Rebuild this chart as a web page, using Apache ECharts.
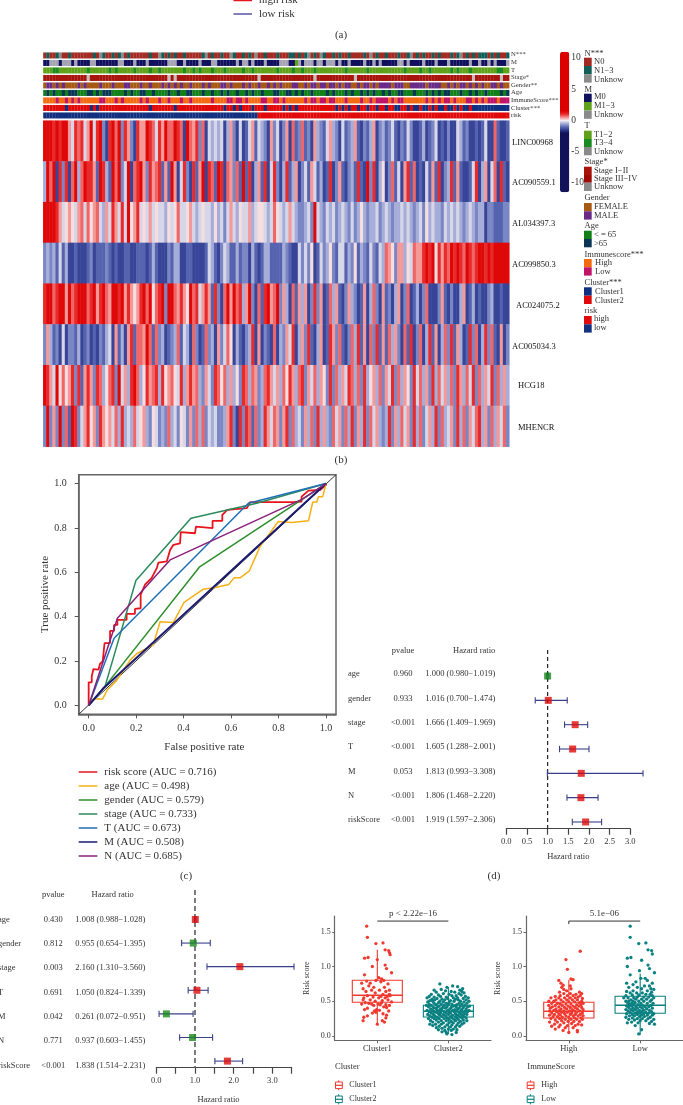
<!DOCTYPE html>
<html><head><meta charset="utf-8">
<style>html,body{margin:0;padding:0;background:#fff;overflow:hidden}#c{width:683px;height:1105px;filter:blur(.4px)}</style>
<script src="https://cdn.jsdelivr.net/npm/echarts@6/dist/echarts.min.js"></script>
</head><body><div id="c"></div>
<script>
// ---------- heatmap data (each digit = one patient, 0 = strongly low ... 9 = strongly high)
const geneNames=["LINC00968","AC090559.1","AL034397.3","AC099850.3","AC024075.2","AC005034.3","HCG18","MHENCR"];
const levelValues=[-1.45,-1.1,-.8,-.5,-.2,.1,.45,.7,1,1.4];
const geneLevels=[
"9998989964 8784694892 0897928620 8669874869 7798709768 2704343403 6204014614 3206240260 7127120632 1463204123 6102136023 1241021420 0130124010 2004312001 0140071001",
"3979082807 9379886198 3197924907 8962867816 1960482081 6908719807 6271918036 1804820381 3602416413 0180261023 1810928035 0271406817 0104161802 3816100148 0360470810",
"9999864565 4674756743 6486484956 8454645443 5457445643 4544353424 6435446345 5434754346 4322342943 2434234324 2353233423 4323343432 3425343324 3434323432 3302211122",
"2323141300 1000120111 2101001100 1110131000 2133001100 0014310243 1131220310 1331111321 0042425014 2352144132 5132142143 7652663547 6689895868 7989879878 9989899999",
"8997899697 8999789689 7699896865 6897957892 9976865978 4686182079 6978369207 1896792630 7163602826 0173610263 2016037206 1203602701 3027000261 0200360130 1002300100",
"2631204022 1301201021 3406130681 7769717230 1237143072 0172306247 5031023806 0210703264 8036281036 0186271027 3816072816 1736207180 2703816037 2816301827 0382710602",
"9864957568 2816862873 5782946389 7358678385 6754836867 3264287573 6352873762 3786463758 6378264736 5282736487 3728356372 6482736528 4736283746 3728637482 7364827363",
"2926292719 8246856286 5647383437 4563254232 7342542627 3724342236 8208287172 3864762682 7342637283 6327462738 2638274632 3826374628 3724638273 4628372647 8362736472"];
// ---------- annotation tracks
const trackNames=["N***","M","T","Stage*","Gender**","Age","ImmuneScore***","Cluster***","risk"];
const trackCodes=[
"0100120010 0000001021 0010120100 0000100210 1010010000 0120100100 2100101020 0100010001 1010120102 1001010010 0001020100 1000100120 1010010100 0101201010 1110101001",
"0022202220 2000022000 0000220002 0002000000 2220020000 2000220000 0020220200 0200002220 0120222022 0222020020 0002002020 0000220200 0020002000 2000000200 2002020002",
"0001100000 0000100000 0101000001 0000100100 0000010010 1000100010 0000100100 0000010000 1001000100 0000000100 0000100000 0000001000 0100100000 0101000100 0000001100",
"0000000000 0000200000 0000000000 0000000000 2020000000 0000000000 0000000002 0000000000 0000000200 0000000000 2000000000 0000000000 0000000000 0000000020 0000000200",
"0110101000 0101000010 0010001100 0100100010 1010100100 0101000110 1000101001 0010101000 1100101101 1011010110 0101101011 1101110011 1110111100 1010110101 0100110100",
"0101001011 1000110101 1100001010 0110010000 1001001100 0100100101 0010010100 1000110011 0101001000 0101000101 0010101001 0100110001 0001010101 1000100101 0010000101",
"0000100101 0100000011 0001010000 0101000100 1000100100 0000100001 1011010000 1100110100 0000101101 1011000100 0010010111 1010110000 0001010101 1010001101 0101110111",
"1111111011 1111101011 1111111111 1111011111 1101111111 1111111101 1010111011 1011111010 1011111111 1111010101 1011011011 0110011010 0100101001 0010100100 0000000000",
"0000000000 0000000000 0000000000 0000000000 0000000000 0000000000 0000000001 1111111111 1111111111 1111111111 1111111111 1111111111 1111111111 1111111111 1111111111"];
const trackPalettes=[
["#a32a22","#0f5f58","#8a8a8a"],["#10105e","#5fa21a","#a4a4b4"],["#5fa21a","#1a8a22","#8a8a8a"],
["#a8140c","#9e0a06","#c8bcbc"],["#a85a14","#6a2b88"],["#128018","#0a3555"],["#f36a10","#c01468"],
["#0f2f80","#e10a0a"],["#12307f","#e10a0a"]];
const annotationLegend=[
{title:"N***",y:53.3,items:[["N0","#a32a22",57.7,61.3],["N1−3","#0f5f58",66,70.3],["Unknow","#8a8a8a",74.3,79.3]]},
{title:"M",y:89.3,items:[["M0","#10105e",93.7,97],["M1−3","#5fa21a",102,106],["Unknow","#8a8a8a",110.5,115]]},
{title:"T",y:126,items:[["T1−2","#5fa21a",130.7,134.7],["T3−4","#1a8a22",139,143],["Unknow","#8a8a8a",147,151.3]]},
{title:"Stage*",y:161.7,items:[["Stage I−II","#a8140c",166.7,170.7],["Stage III−IV","#9e0a06",175,178.7],["Unknow","#8a8a8a",182.7,186.7]]},
{title:"Gender",y:198,items:[["FEMALE","#a85a14",203,206.3],["MALE","#6a2b88",211.3,215.3]]},
{title:"Age",y:225.3,items:[["< = 65","#128018",230.7,234.7],[">65","#0a3555",239,243.3]]},
{title:"Immunescore***",y:254.3,items:[["High","#f36a10",259,262.7],["Low","#c01468",267.3,271.7]]},
{title:"Cluster***",y:283,items:[["Cluster1","#0f2f80",287.3,291.3],["Cluster2","#e10a0a",295.7,300.3]]},
{title:"risk",y:310.7,items:[["high","#e10a0a",316,318.7],["low","#12307f",324.3,328]]}];
// ---------- ROC curves [false positive rate, true positive rate]
const rocRisk=[[0,0],[0,.104],[.013,.104],[.013,.131],[.02,.164],[.041,.161],[.048,.188],[.059,.198],[.067,.281],[.09,.281],[.09,.336],[.107,.336],[.107,.363],[.121,.363],[.121,.386],[.16,.386],[.16,.413],[.195,.413],[.195,.435],[.219,.438],[.219,.498],[.237,.544],[.265,.574],[.287,.619],[.294,.644],[.329,.649],[.343,.701],[.357,.724],[.385,.731],[.388,.781],[.448,.776],[.452,.806],[.522,.799],[.522,.832],[.563,.832],[.563,.859],[.584,.881],[.666,.889],[.68,.916],[.862,.916],[.897,.919],[.897,.941],[.926,.968],[.975,.971],[1,.994],[1,1]];
const rocAge=[[0,0],[.02,.029],[.059,.029],[.079,.071],[.118,.113],[.174,.203],[.202,.233],[.272,.273],[.301,.377],[.357,.374],[.402,.465],[.483,.524],[.539,.533],[.59,.545],[.612,.575],[.638,.575],[.676,.605],[.722,.716],[.799,.829],[.855,.824],[.926,.832],[.944,.917],[.961,.917],[.968,.941],[.986,.941],[1,1]];
const rocGender=[[0,0],[.069,.086],[.466,.623],[1,1]];
const rocStage=[[0,0],[.069,.086],[.199,.563],[.431,.844],[.708,.911],[1,1]];
const rocT=[[0,0],[.107,.303],[.673,.911],[1,1]];
const rocM=[[0,0],[.06,.075],[1,1]];
const rocN=[[0,0],[.121,.393],[.343,.656],[.9,.93],[1,1]];
const rocDiagonal=[[-.042,-.04],[1.042,1.04]];
const rocNames=["risk score (AUC = 0.716)","age (AUC = 0.498)","gender (AUC = 0.579)","stage (AUC = 0.733)","T (AUC = 0.673)","M (AUC = 0.508)","N (AUC = 0.685)"];
const rocColors=["#e8141c","#f5b014","#2c8f2c","#2a8a5c","#1f6fb5","#1a1a70","#8a1f7a"];
// ---------- forest plots
const forestNames=["age","gender","stage","T","M","N","riskScore"];
const multiP=["0.960","0.933","<0.001","<0.001","0.053","<0.001","<0.001"];
const multiHR=[1.000,1.016,1.666,1.605,1.813,1.806,1.919];
const multiLow=[.980,.700,1.409,1.288,.993,1.468,1.597];
const multiHigh=[1.019,1.474,1.969,2.001,3.308,2.220,2.306];
const multiText=["1.000 (0.980−1.019)","1.016 (0.700−1.474)","1.666 (1.409−1.969)","1.605 (1.288−2.001)","1.813 (0.993−3.308)","1.806 (1.468−2.220)","1.919 (1.597−2.306)"];
const uniP=["0.430","0.812","0.003","0.691","0.042","0.771","<0.001"];
const uniHR=[1.008,.955,2.160,1.050,.261,.937,1.838];
const uniLow=[.988,.654,1.310,.824,.072,.603,1.514];
const uniHigh=[1.028,1.395,3.560,1.339,.951,1.455,2.231];
const uniText=["1.008 (0.988−1.028)","0.955 (0.654−1.395)","2.160 (1.310−3.560)","1.050 (0.824−1.339)","0.261 (0.072−0.951)","0.937 (0.603−1.455)","1.838 (1.514−2.231)"];
// ---------- box plots: [min, q1, median, q3, max]
const clusterNames=["Cluster1","Cluster2"];
const immuneNames=["High","Low"];
const clusterBoxes=[[.18,.486,.586,.803,1.24],[.03,.274,.356,.442,.70]];
const immuneBoxes=[[.04,.26,.356,.486,.81],[.015,.327,.442,.572,.90]];
// jitter points: [horizontal jitter, risk score]
const cluster1Pts=[[-.15,1.58],[-.14,1.42],[-.02,1.33],[.08,1.34],[.11,1.24],[.16,1.23],[.17,1.2],[.18,1.17],[-.18,1.12],[-.13,1.13],[0,1.1],[.11,1.02],[.13,.97],[.2,.91],[-.18,.88],[-.07,1],[.02,.84],[.06,.82],[.09,.8],[-.15,.79],[-.1,.76],[-.22,.76],[-.02,.8],[.05,.78],[.15,.75],[-.12,.72],[-.05,.7],[.1,.7],[-.2,.68],[.17,.66],[-.08,.66],[.03,.66],[.12,.64],[-.16,.64],[-.03,.62],[.08,.6],[.17,.6],[.18,.58],[.14,.57],[.05,.57],[-.14,.58],[-.19,.55],[-.06,.56],[.02,.55],[.11,.55],[-.2,.52],[-.1,.52],[-.03,.5],[.07,.51],[.15,.52],[.2,.49],[-.17,.48],[-.12,.47],[-.08,.46],[.01,.46],[.04,.45],[.12,.45],[.17,.44],[-.22,.46],[-.05,.44],[.09,.42],[.13,.41],[-.14,.4],[-.01,.38],[.03,.37],[.16,.36],[-.18,.38],[-.02,.34],[.08,.32],[.13,.3],[.12,.26],[-.14,.29],[-.19,.27],[-.2,.22],[.07,.22],[0,.17],[.1,.2],[-.07,.33],[-.04,.36],[.06,.48]];
const cluster2Pts=[[-.12,.75],[.06,.72],[-.02,.7],[.13,.71],[.2,.68],[.16,.66],[.19,.64],[-.2,.66],[-.1,.67],[-.04,.65],[.04,.64],[-.17,.63],[.09,.63],[.15,.61],[.22,.62],[-.24,.6],[-.14,.59],[-.07,.61],[.01,.6],[.11,.58],[.18,.59],[-.27,.57],[-.2,.56],[-.11,.57],[-.03,.56],[.05,.58],[.13,.55],[.24,.57],[-.3,.55],[-.23,.53],[-.16,.54],[-.09,.53],[-.01,.54],[.07,.55],[.14,.52],[.21,.54],[.28,.55],[-.26,.51],[-.19,.52],[-.12,.5],[-.05,.52],[.03,.51],[.1,.53],[.17,.5],[.25,.52],[-.29,.49],[-.22,.5],[-.14,.48],[-.07,.49],[.01,.48],[.08,.5],[.15,.47],[.22,.49],[.29,.5],[-.27,.46],[-.2,.47],[-.1,.46],[-.03,.47],[.05,.46],[.12,.45],[.19,.46],[.26,.47],[-.31,.44],[-.24,.44],[-.17,.45],[-.13,.43],[-.06,.44],[0,.45],[.07,.43],[.1,.44],[.17,.43],[.23,.44],[.3,.43],[-.28,.42],[-.21,.41],[-.15,.42],[-.08,.41],[-.02,.42],[.04,.41],[.11,.42],[.15,.4],[.21,.41],[.27,.42],[-.25,.39],[-.18,.4],[-.11,.39],[-.04,.4],[.02,.39],[.09,.38],[.13,.39],[.19,.38],[.25,.39],[-.3,.37],[-.22,.37],[-.16,.38],[-.09,.37],[-.01,.37],[.06,.37],[.12,.36],[.18,.36],[.24,.36],[.29,.37],[-.27,.35],[-.2,.35],[-.13,.36],[-.06,.35],[.01,.35],[.08,.35],[.15,.34],[.21,.34],[.27,.35],[-.24,.33],[-.17,.34],[-.11,.33],[-.03,.33],[.03,.33],[.1,.32],[.17,.32],[.23,.32],[-.29,.31],[-.21,.31],[-.14,.32],[-.07,.31],[0,.31],[.06,.3],[.13,.3],[.2,.3],[.26,.31],[-.26,.29],[-.19,.29],[-.12,.3],[-.04,.29],[.03,.28],[.1,.28],[.16,.28],[.22,.28],[-.23,.27],[-.16,.27],[-.09,.28],[-.02,.26],[.05,.26],[.12,.26],[.19,.26],[.25,.26],[-.28,.25],[-.2,.25],[-.13,.25],[-.06,.25],[.01,.24],[.08,.24],[.14,.24],[.21,.23],[-.25,.22],[-.17,.23],[-.1,.22],[-.03,.22],[.04,.21],[.1,.22],[.17,.21],[.26,.22],[-.22,.2],[-.14,.2],[-.07,.19],[.01,.19],[.07,.19],[.14,.19],[.22,.19],[-.26,.17],[-.18,.17],[-.1,.17],[-.02,.16],[.05,.16],[.12,.16],[.19,.17],[-.22,.15],[-.13,.14],[-.05,.13],[.03,.13],[.1,.13],[.16,.14],[-.17,.12],[-.09,.11],[0,.1],[.07,.1],[-.14,.09],[-.05,.08],[.04,.08],[.12,.09],[-.09,.06],[-.03,.05],[.11,.05],[-.02,.03],[.05,.02]];
const highPts=[[.16,1.22],[-.04,1.1],[-.02,.96],[-.14,.8],[.03,.82],[.06,.81],[-.11,.76],[-.08,.73],[-.1,.7],[.02,.72],[-.07,.67],[.03,.68],[-.13,.63],[-.03,.65],[.15,.63],[.18,.61],[-.07,.61],[.02,.61],[.1,.6],[.16,.58],[-.12,.58],[-.19,.57],[-.02,.58],[.06,.58],[.13,.56],[-.25,.55],[-.14,.55],[-.06,.55],[.02,.55],[.09,.55],[.19,.54],[-.18,.52],[-.11,.52],[-.03,.52],[.05,.52],[.12,.52],[.18,.5],[-.28,.5],[-.21,.5],[-.08,.49],[0,.49],[.08,.49],[.15,.48],[.2,.47],[-.24,.47],[-.16,.47],[-.12,.46],[-.04,.46],[.03,.46],[.11,.45],[.17,.45],[-.28,.44],[-.19,.44],[-.09,.44],[-.01,.43],[.06,.43],[.14,.43],[-.23,.42],[-.14,.42],[-.06,.41],[.02,.41],[.09,.41],[.18,.41],[-.26,.4],[-.18,.39],[-.11,.39],[-.03,.39],[.05,.38],[.12,.39],[.2,.38],[-.21,.37],[-.13,.37],[-.07,.36],[.01,.36],[.08,.36],[.15,.36],[-.27,.36],[-.17,.35],[-.1,.34],[-.02,.34],[.04,.33],[.11,.34],[.19,.33],[-.24,.33],[-.14,.32],[-.06,.32],[.02,.31],[.09,.31],[.16,.31],[-.2,.31],[-.27,.3],[-.12,.3],[-.04,.29],[.06,.29],[.13,.29],[.2,.29],[-.22,.28],[-.16,.28],[-.09,.27],[0,.27],[.08,.26],[.17,.26],[-.25,.25],[-.13,.25],[-.05,.24],[.03,.24],[.11,.24],[.19,.24],[-.19,.23],[-.1,.22],[-.01,.21],[.07,.21],[.15,.21],[-.27,.2],[-.16,.2],[-.07,.19],[.04,.18],[.13,.17],[-.2,.17],[-.12,.16],[-.02,.15],[.09,.15],[.18,.16],[-.24,.14],[-.14,.13],[-.05,.12],[.06,.12],[-.19,.1],[-.08,.08],[.12,.08],[0,.05],[.12,.06]];
const lowPts=[[-.14,1.58],[-.14,1.42],[-.02,1.33],[.08,1.34],[.11,1.24],[.16,1.23],[.17,1.18],[-.18,1.12],[-.13,1.13],[.02,1.09],[.11,1.02],[.13,.97],[.2,.91],[-.18,1],[-.14,.88],[-.01,.94],[.07,.83],[.1,.8],[-.19,.76],[-.06,.78],[.01,.83],[.17,.76],[-.1,.74],[.06,.72],[.13,.72],[-.16,.7],[-.04,.7],[.02,.68],[.15,.68],[.19,.67],[-.19,.64],[-.1,.65],[.1,.65],[.16,.63],[-.14,.62],[-.05,.62],[.03,.62],[.08,.6],[.14,.6],[-.2,.58],[-.11,.59],[-.02,.59],[.17,.58],[-.23,.55],[-.17,.55],[-.09,.55],[-.04,.56],[.05,.56],[.12,.56],[.19,.55],[-.13,.52],[-.06,.53],[.02,.53],[.09,.53],[.16,.52],[-.2,.5],[-.16,.5],[-.1,.5],[-.02,.5],[.05,.5],[.14,.5],[-.17,.47],[-.12,.47],[-.07,.48],[.01,.47],[.1,.47],[.18,.47],[-.15,.45],[-.09,.45],[-.03,.45],[.04,.44],[.15,.44],[-.19,.43],[-.12,.43],[-.06,.42],[0,.42],[.07,.42],[.12,.42],[-.16,.41],[-.1,.4],[-.04,.4],[.03,.4],[.09,.39],[.17,.4],[-.2,.38],[-.13,.38],[-.07,.38],[-.01,.37],[.05,.37],[.13,.37],[-.17,.36],[-.1,.36],[-.04,.35],[.02,.35],[.08,.34],[.16,.35],[-.14,.34],[-.07,.33],[-.01,.33],[.05,.32],[.12,.33],[.19,.32],[-.19,.32],[-.11,.31],[-.04,.31],[.02,.3],[.1,.3],[.17,.3],[-.15,.29],[-.08,.29],[-.01,.28],[.06,.28],[.14,.27],[-.2,.27],[-.11,.26],[-.04,.25],[.03,.25],[.11,.25],[.19,.24],[-.16,.24],[-.08,.23],[0,.22],[.08,.22],[.16,.21],[-.12,.2],[-.03,.19],[.13,.18],[-.07,.15],[.2,.17],[-.18,.19],[-.02,.03],[.02,.09]];

// ---------- colours
const heatStops={"-2":"#12125a","-1.5":"#323f93","-1":"#5f6db6","-0.5":"#a6add8","0":"#f6f1f3","0.5":"#f48e8e","1":"#e92a2a","1.5":"#dd0000"};
const heatRange=[];
for(let i=-23;i<=22;i++){const v=i/2;heatRange.push(v<=-2?heatStops["-2"]:v>=1.5?heatStops["1.5"]:heatStops[String(v)]);}
const F="Liberation Serif",TXT="#333",AX="#444";
const clean=s=>s.replace(/ /g,"");
const colIdx=Array.from({length:150},(_,i)=>i);

// ---------- series builders
const grid=[],xAxis=[],yAxis=[],series=[],graphic=[];
function addGrid(g,x,y){grid.push(g);const i=grid.length-1;xAxis.push(Object.assign({gridIndex:i},x));yAxis.push(Object.assign({gridIndex:i},y));return i;}
function T(text,x,y,size,o){graphic.push({type:"text",silent:true,x:x,y:y,style:Object.assign({text:text,fill:TXT,font:size+"px '"+F+"'",align:"left",verticalAlign:"middle"},o||{})});}
function L(x1,y1,x2,y2,c,w){graphic.push({type:"line",silent:true,shape:{x1,y1,x2,y2},style:{stroke:c,lineWidth:w||1}});}
function R(x,y,w,h,fill,stroke){graphic.push({type:"rect",silent:true,shape:{x,y,width:w,height:h},style:{fill:fill||"none",stroke:stroke||null,lineWidth:1}});}
const hiddenCat=(n,inv)=>({type:"category",data:n,show:false,inverse:!!inv,boundaryGap:true});

// annotation tracks
const gA=addGrid({left:43.3,top:51.7,width:466,height:67.5},hiddenCat(colIdx),hiddenCat(trackNames,true));
const annData=[];
trackCodes.forEach((s,r)=>clean(s).split("").forEach((c,i)=>annData.push([i,r,+c])));
series.push({type:"custom",xAxisIndex:gA,yAxisIndex:gA,silent:true,data:annData,encode:{x:0,y:1},
 renderItem:(p,api)=>{const c=api.coord([api.value(0),api.value(1)]),s=api.size([1,1]);
  return {type:"rect",shape:{x:c[0]-s[0]/2-.1,y:c[1]-s[1]*.4,width:s[0]+.2,height:s[1]*.8},style:{fill:trackPalettes[api.value(1)][api.value(2)]}};}});
// heatmap
const gH=addGrid({left:43.3,top:120.7,width:466,height:326},hiddenCat(colIdx),hiddenCat(geneNames,true));
const heatData=[];
geneLevels.forEach((s,r)=>clean(s).split("").forEach((c,i)=>heatData.push([i,r,levelValues[+c]])));
series.push({type:"heatmap",xAxisIndex:gH,yAxisIndex:gH,silent:true,data:heatData,progressive:0,itemStyle:{borderWidth:0}});
const heatSeries=series.length-1;
// colour-bar scale
addGrid({left:560,top:51.7,width:9.3,height:140.6},{type:"value",min:0,max:1,show:false},
 {type:"value",min:-11.5,max:11,position:"right",axisLine:{show:false},axisTick:{show:false},splitLine:{show:false},
  axisLabel:{customValues:[-10,-5,0,5,10],margin:2,fontFamily:F,fontSize:9.5,color:TXT}});
// ROC
const frac=v=>v.toFixed(1);
const rocTicks=[0,.2,.4,.6,.8,1];
const gR=addGrid({left:78.7,top:474.7,width:257.3,height:239.6,show:true,borderColor:"#666",borderWidth:1.5,backgroundColor:"#fff"},
 {type:"value",min:-.042,max:1.042,splitLine:{show:false},axisLine:{onZero:false,lineStyle:{color:"#666",width:1.5}},axisTick:{customValues:rocTicks,length:4,lineStyle:{color:"#555"}},
  axisLabel:{customValues:rocTicks,formatter:frac,margin:9,fontFamily:F,fontSize:10,color:TXT},name:"False positive rate",nameLocation:"middle",nameGap:27,nameTextStyle:{fontFamily:F,fontSize:11,color:TXT,padding:[0,6,0,0]}},
 {type:"value",min:-.04,max:1.04,splitLine:{show:false},axisLine:{onZero:false,lineStyle:{color:"#666",width:1.5}},axisTick:{customValues:rocTicks,length:4,lineStyle:{color:"#555"}},
  axisLabel:{customValues:rocTicks,formatter:frac,margin:12,fontFamily:F,fontSize:10,color:TXT},name:"True positive rate",nameLocation:"middle",nameGap:28,nameRotate:90,nameTextStyle:{fontFamily:F,fontSize:11,color:TXT}});
series.push({type:"line",xAxisIndex:gR,yAxisIndex:gR,data:rocDiagonal,symbol:"none",silent:true,lineStyle:{color:"#333",width:1},z:2});
[rocRisk,rocAge,rocGender,rocStage,rocT,rocM,rocN].forEach((d,i)=>series.push({type:"line",name:rocNames[i],xAxisIndex:gR,yAxisIndex:gR,data:d,symbol:"none",silent:true,
  itemStyle:{color:rocColors[i]},lineStyle:{color:rocColors[i],width:i===0?1.8:(i===5?2:1.5)},z:3}));
// forest plots
function forest(gCfg,xCfg,yMin,yMax,hr,lo,hi,dash){
 const g=addGrid(gCfg,Object.assign({type:"value",min:0,interval:.5,splitLine:{show:false},axisLine:{onZero:false,lineStyle:{color:AX,width:1.2}},axisTick:{length:6,lineStyle:{color:AX,width:1.2}},
   axisLabel:{margin:9,fontFamily:F,fontSize:8.5,color:TXT,formatter:frac},name:"Hazard ratio",nameLocation:"middle",nameTextStyle:{fontFamily:F,fontSize:8.5,color:TXT}},xCfg),
   {type:"value",min:yMin,max:yMax,inverse:true,show:false});
 series.push({type:"line",xAxisIndex:g,yAxisIndex:g,data:[[1,yMin],[1,yMax]],symbol:"none",silent:true,lineStyle:dash,z:2});
 series.push({type:"custom",xAxisIndex:g,yAxisIndex:g,silent:true,clip:false,z:3,data:hr.map((v,i)=>[lo[i],i,hi[i]]),encode:{x:[0,2],y:1},
  renderItem:(p,api)=>{const a=api.coord([api.value(0),api.value(1)]),b=api.coord([api.value(2),api.value(1)]);
   const st={stroke:"#3a3f8a",lineWidth:1.1};
   return {type:"group",children:[{type:"line",shape:{x1:a[0],y1:a[1],x2:b[0],y2:b[1]},style:st},
    {type:"line",shape:{x1:a[0],y1:a[1]-3.2,x2:a[0],y2:a[1]+3.2},style:st},{type:"line",shape:{x1:b[0],y1:b[1]-3.2,x2:b[0],y2:b[1]+3.2},style:st}]};}});
 series.push({type:"scatter",xAxisIndex:g,yAxisIndex:g,silent:true,z:4,symbol:"rect",symbolSize:7,
  data:hr.map((v,i)=>({value:[v,i],itemStyle:{color:v>1?"#dd0a0a":"#1a8a1a"}}))});
}
forest({left:506.3,top:650,width:124,height:178.7},{max:3,nameGap:24},-1.07,6.276,multiHR,multiLow,multiHigh,{color:"#222",width:1.2,type:[4,3]});
forest({left:156.3,top:890,width:135.4,height:182.7},{max:3.5,nameGap:27.3,axisLabel:{margin:9,fontFamily:F,fontSize:8.5,color:TXT,formatter:v=>Number.isInteger(v)?v.toFixed(1):""},nameTextStyle:{fontFamily:F,fontSize:8.5,color:TXT,padding:[0,11,0,0]}},-1.248,6.28,uniHR,uniLow,uniHigh,{color:"#666",width:1.7,type:[5,3]});
// box plots
const RED="#f0392f",TEAL="#0a8080";
function boxPlot(gCfg,names,boxes,pts,tickDown){
 const g=addGrid(gCfg,{type:"value",min:-.6,max:1.6,splitLine:{show:false},axisLine:{onZero:false,lineStyle:{color:"#666",width:1.2}},axisTick:{customValues:[0,1],length:3,lineStyle:{color:"#666"}},
   axisLabel:{customValues:[0,1],formatter:v=>names[v],margin:4,fontFamily:F,fontSize:8.5,color:TXT}},
  {type:"value",min:-.062,max:1.727,splitLine:{show:false},axisLine:{onZero:false,lineStyle:{color:"#666",width:1.2}},axisTick:{customValues:[0,.5,1,1.5],length:2.5,lineStyle:{color:"#666"}},
   axisLabel:{customValues:[0,.5,1,1.5],formatter:frac,margin:4,fontFamily:F,fontSize:8,color:TXT},name:"Risk score",nameLocation:"middle",nameGap:23.7,nameRotate:90,nameTextStyle:{fontFamily:F,fontSize:8,color:TXT}});
 const colors=[RED,TEAL];
 series.push({type:"custom",xAxisIndex:g,yAxisIndex:g,silent:true,z:2,data:boxes.map((b,i)=>[i].concat(b)),encode:{x:0,y:[1,2,3,4,5]},
  renderItem:(p,api)=>{const x=api.value(0),hw=api.size([.704,0])[0]/2,c=colors[x];
   const Y=k=>api.coord([x,api.value(k)])[1],X=api.coord([x,0])[0];
   const st={stroke:c,lineWidth:1.1,fill:"none"};
   return {type:"group",children:[
    {type:"line",shape:{x1:X,y1:Y(1),x2:X,y2:Y(2)},style:st},{type:"line",shape:{x1:X,y1:Y(4),x2:X,y2:Y(5)},style:st},
    {type:"rect",shape:{x:X-hw,y:Y(4),width:hw*2,height:Y(2)-Y(4)},style:st},
    {type:"line",shape:{x1:X-hw,y1:Y(3),x2:X+hw,y2:Y(3)},style:{stroke:c,lineWidth:1.6}}]};}});
 pts.forEach((arr,i)=>series.push({type:"scatter",xAxisIndex:g,yAxisIndex:g,silent:true,z:3,symbolSize:3.3,itemStyle:{color:colors[i],opacity:1},data:arr.map(p=>[i+p[0],p[1]])}));
 series.push({type:"line",xAxisIndex:g,yAxisIndex:g,silent:true,z:4,symbol:"none",lineStyle:{color:"#333",width:1},data:tickDown?[[0,1.61],[0,1.654],[1,1.654]]:[[0,1.654],[1,1.654]]});
}
boxPlot({left:334.7,top:916,width:156.3,height:124.3},clusterNames,clusterBoxes,[cluster1Pts,cluster2Pts],false);
boxPlot({left:526,top:916,width:157,height:124.3},immuneNames,immuneBoxes,[highPts,lowPts],true);

// ---------- free text
L(233.5,.5,252,.5,"#e8141c",1.5);T("high risk",259,0,11);
L(233.5,14,252,14,"#2a2a8a",1.2);T("low risk",259,14,11);
T("(a)",341,34.7,11,{align:"center"});T("(b)",341,460,11,{align:"center"});T("(c)",186,875.7,11,{align:"center"});T("(d)",494,875.7,11,{align:"center"});
const geneLabelX=[512,512,512,512,516,512,518,518],geneLabelY=[142.3,183,224,265,306,346.7,386,428];
geneNames.forEach((n,i)=>T(n,geneLabelX[i],geneLabelY[i],8.5,{fill:"#111"}));
trackNames.forEach((n,i)=>T(n,511,54.7+i*7.6,6.7));
annotationLegend.forEach(b=>{T(b.title,584.5,b.y,8.5);
  b.items.forEach((it,i)=>{const y0=it[2],y1=i<b.items.length-1?b.items[i+1][2]:y0+8.3;R(584,y0,7.7,y1-y0,it[1]);T(it[0],b.title==="Immunescore***"||b.title==="Cluster***"?595:594,it[3],8.5);});});
function table(nameX,pX,hrX,rows,headY,ps,hrs,headAlign,headX){
 T("pvalue",pX,headY,8.5,{align:"center"});T("Hazard ratio",headX,headY,8.5,{align:headAlign});
 forestNames.forEach((n,i)=>{const y=rows(i);T(n,nameX,y,8.5);T(ps[i],pX,y,8.5,{align:"center"});T(hrs[i],hrX,y,8.5,{align:"right"});});
}
table(348,403,495.3,i=>674+24.33*i,650.3,multiP,multiText,"right",495.3);
table(-2,53.3,145.3,i=>919.7+24.27*i,894.3,uniP,uniText,"center",112.7);
T("p < 2.22e−16",413,914,9,{align:"center"});T("5.1e−06",604.3,914,9,{align:"center"});
function key(x,y,c,label,tx){L(x+3.7,y-5,x+3.7,y+5,c,1);R(x+.5,y-3.3,6.8,6.6,"#fff",c);L(x+.5,y,x+7.3,y,c,1.2);T(label,tx,y,8);}
T("Cluster",335,1067,8.5);key(335,1085.3,RED,"Cluster1",349.3);key(335,1099.3,TEAL,"Cluster2",349.3);
T("ImmuneScore",527.3,1067,8.5);key(526.7,1085.3,RED,"High",541.3);key(526.7,1099.3,TEAL,"Low",541.3);

const chart=echarts.init(document.getElementById("c"),null,{renderer:"canvas"});
chart.setOption({animation:false,backgroundColor:"#fff",grid,xAxis,yAxis,series,graphic:{elements:graphic},
 legend:{data:rocNames,orient:"vertical",left:78.7,top:766.5,padding:0,itemWidth:18.6,itemHeight:1.5,itemGap:3,icon:"rect",selectedMode:false,textStyle:{fontFamily:F,fontSize:11,color:TXT,padding:[0,0,0,2]}},
 visualMap:{type:"continuous",seriesIndex:heatSeries,dimension:2,min:-11.5,max:11,calculable:false,text:["",""],left:560,top:51.7,padding:0,itemWidth:9.3,itemHeight:140.6,inRange:{color:heatRange},showLabel:false,realtime:false,hoverLink:false}
});
</script></body></html>
